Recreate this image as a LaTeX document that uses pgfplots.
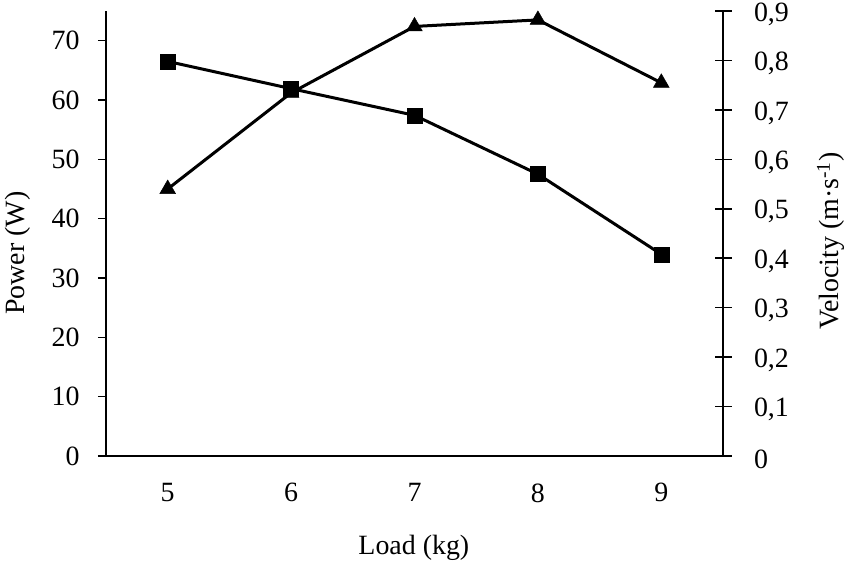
\documentclass[border=0pt]{standalone}
\usepackage{fontspec}
\setmainfont{Liberation Serif}
\usepackage{pgfplots}
\pgfplotsset{compat=1.18}
\newcommand{\F}{\fontsize{28}{33}\selectfont}
\begin{document}
\begin{tikzpicture}
\pgfplotsset{
  common/.style={
    scale only axis, width=617bp, height=445bp,
    at={(0,0)}, anchor=south west,
    xmin=4.5, xmax=9.5,
    axis line style={-, line width=1.5bp, black},
    x axis line style={-},
    y axis line style={-},
    every outer x axis line/.append style={-},
    every outer y axis line/.append style={-},
    tick style={line width=1.5bp, black},
    tick label style={font=\F},
    /pgf/number format/assume math mode=true,
    scaled y ticks=false,
  }}
\begin{axis}[common,
  axis x line=bottom, axis y line=left,
  x axis line style={-}, y axis line style={-},
  ymin=0, ymax=75, ytick={0,10,20,30,40,50,60,70},
  xtick={5,6,7,8,9},
  xtick style={draw=none},
  tick align=outside,
  major tick length=8bp,
  yticklabel style={xshift=-15bp},
  xticklabel style={yshift=-16bp},
  every axis y label/.style={at={(axis description cs:-0.143,0.456)}, anchor=center, rotate=90, font=\F},
  every axis x label/.style={at={(axis description cs:0.499,-0.207)}, anchor=center, font=\F},
  ylabel={Power (W)},
  xlabel={Load (kg)},
]
\addplot[black, line width=3bp, mark=triangle*, mark size=9bp, mark options={line width=0.5bp}]
  coordinates {(5,45.0) (6,61.2) (7,72.4) (8,73.5) (9,62.9)};
\end{axis}
\begin{axis}[common,
  axis y line=right, axis x line=none,
  y axis line style={-},
  ymin=0, ymax=0.9, ytick={0,0.1,0.2,0.3,0.4,0.5,0.6,0.7,0.8,0.9},
  ytick align=center,
  major tick length=17bp,
  yticklabel style={xshift=19bp, yshift=-3bp, /pgf/number format/.cd, fixed, precision=1, use comma},
  every axis y label/.style={at={(axis description cs:1.175,0.483)}, anchor=center, rotate=90, font=\F},
  ylabel={Velocity (m·s\textsuperscript{-1})},
]
\addplot[black, line width=3bp, mark=square*, mark size=7.5bp, mark options={line width=0.5bp}]
  coordinates {(5,0.798) (6,0.743) (7,0.689) (8,0.570) (9,0.408)};
\end{axis}
\pgfresetboundingbox
\path[use as bounding box] (-106bp,-114bp) rectangle (744bp,456bp);
\end{tikzpicture}
\end{document}
